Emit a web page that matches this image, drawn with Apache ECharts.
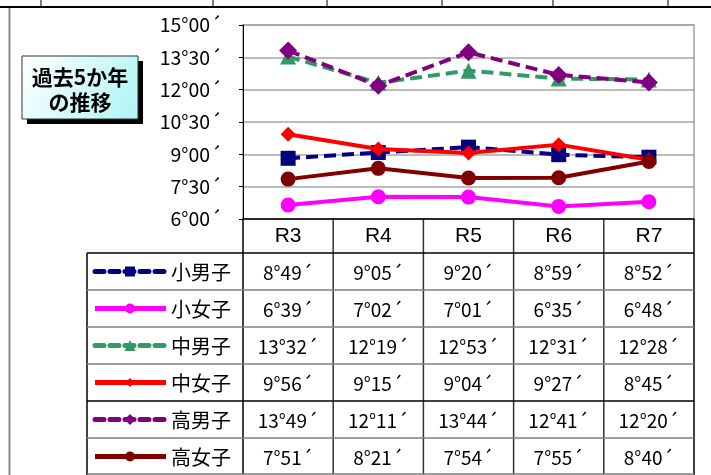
<!DOCTYPE html>
<html><head><meta charset="utf-8">
<script src="https://cdn.jsdelivr.net/npm/echarts@6/dist/echarts.min.js"></script>
<style>html,body{margin:0;padding:0;background:#fff}#c{width:711px;height:475px}</style>
</head><body><div id="c"></div>
<script>
// ---- data (seconds) ----
const categories = ['R3', 'R4', 'R5', 'R6', 'R7'];
const seriesNames = ['小男子', '小女子', '中男子', '中女子', '高男子', '高女子'];
const shoBoys  = [529, 545, 560, 539, 532];   // 8'49 9'05 9'20 8'59 8'52
const shoGirls = [399, 422, 421, 395, 408];   // 6'39 7'02 7'01 6'35 6'48
const chuBoys  = [812, 739, 773, 751, 748];   // 13'32 12'19 12'53 12'31 12'28
const chuGirls = [596, 555, 544, 567, 525];   // 9'56 9'15 9'04 9'27 8'45
const koBoys   = [829, 731, 824, 761, 740];   // 13'49 12'11 13'44 12'41 12'20
const koGirls  = [471, 501, 474, 475, 520];   // 7'51 8'21 7'54 7'55 8'40
const yMin = 360, yMax = 900, yStep = 90;     // 6'00 .. 15'00 every 1'30
const titleLines = ['過去5か年', 'の推移'];

const allData = [shoBoys, shoGirls, chuBoys, chuGirls, koBoys, koGirls];
const styles = [
  {color: '#000080', dashed: true,  symbol: 'rect',     size: 15, lsize: 10},
  {color: '#ff00ff', dashed: false, symbol: 'circle',   size: 15, lsize: 10},
  {color: '#339966', dashed: true,  symbol: 'triangle', size: 16, lsize: 11},
  {color: '#ff0000', dashed: false, symbol: 'diamond',  size: 15, lsize: 9},
  {color: '#800080', dashed: true,  symbol: 'diamond',  size: 18, lsize: 11},
  {color: '#800000', dashed: false, symbol: 'circle',   size: 15, lsize: 10}
];
const FONT = '"Noto Sans CJK JP", sans-serif';
function fmt(s) {
  const m = Math.floor(s / 60), r = s % 60;
  return m + '°' + (r < 10 ? '0' + r : r) + '´';
}

const G = {left: 243, top: 25, width: 451, height: 194};
const chart = echarts.init(document.getElementById('c'), null, {renderer: 'canvas'});
chart.setOption({
  animation: false,
  backgroundColor: '#fff',
  grid: {left: G.left, top: G.top, width: G.width, height: G.height, show: true, borderColor: '#a0a0a0', borderWidth: 1.5, backgroundColor: '#fff'},
  xAxis: {
    type: 'category', data: categories, boundaryGap: true,
    axisLine: {lineStyle: {color: '#000', width: 1.5}},
    axisTick: {show: false},
    axisLabel: {show: false}
  },
  yAxis: {
    type: 'value', min: yMin, max: yMax, interval: yStep,
    axisLine: {show: true, lineStyle: {color: '#000', width: 1}},
    axisTick: {show: true, length: 4, lineStyle: {color: '#000'}},
    splitLine: {lineStyle: {color: '#a6a6a6', width: 1.5}},
    axisLabel: {formatter: fmt, fontSize: 19.5, margin: 21, color: '#000', fontFamily: FONT}
  },
  series: allData.map((d, i) => ({
    name: seriesNames[i], type: 'line', data: d,
    symbol: styles[i].symbol, symbolSize: styles[i].size,
    lineStyle: {color: styles[i].color, width: 4, type: styles[i].dashed ? [12, 6] : 'solid'},
    itemStyle: {color: styles[i].color},
    z: 2 + i
  }))
});

// ---- data table & decorations ----
const gfx = [];
const colX = categories.map((c, i) => chart.convertToPixel({xAxisIndex: 0}, i));
const colW = colX.length > 1 ? colX[1] - colX[0] : G.width;
const tableTop = G.top + G.height;     // header row top
const headerH = 34;
const rowH = 37;
const legendLeft = 87;
const right = G.left + G.width;
const bodyTop = tableTop + headerH;
const bodyBottom = bodyTop + rowH * seriesNames.length;

// outer frame
gfx.push({type: 'line', shape: {x1: 0, y1: 7, x2: 711, y2: 7}, style: {stroke: '#000', lineWidth: 2}});
[41, 213, 327, 442, 553, 668].forEach(x => gfx.push({type: 'line', shape: {x1: x, y1: 0, x2: x, y2: 7}, style: {stroke: '#000', lineWidth: 1}}));
gfx.push({type: 'line', shape: {x1: 9.5, y1: 8, x2: 9.5, y2: 475}, style: {stroke: '#8c8c8c', lineWidth: 2}});

// title box
gfx.push({type: 'rect', shape: {x: 27, y: 61, width: 116, height: 63}, style: {fill: '#000'}});
gfx.push({type: 'rect', shape: {x: 22, y: 56, width: 116, height: 63},
  style: {fill: new echarts.graphic.LinearGradient(0, 0, 1, 1, [{offset: 0, color: '#ffffff'}, {offset: 1, color: '#aef4f4'}]), stroke: '#333', lineWidth: 1}});
titleLines.forEach((t, i) => gfx.push({type: 'text', x: 80, y: 77 + i * 25,
  style: {text: t, fill: '#000', fontSize: 21, fontWeight: 'bold', fontFamily: FONT, align: 'center', verticalAlign: 'middle'}}));

// header labels (category names in the table header row)
categories.forEach((c, i) => gfx.push({type: 'text', x: colX[i], y: tableTop + headerH / 2,
  style: {text: c, fill: '#000', fontSize: 21, fontFamily: '"Liberation Sans", Arial, sans-serif', align: 'center', verticalAlign: 'middle'}}));

// table grid lines
for (let k = 0; k <= categories.length; k++) {
  const x = G.left + colW * k;
  gfx.push({type: 'line', shape: {x1: x, y1: tableTop, x2: x, y2: bodyBottom}, style: {stroke: k === 0 || k === categories.length ? '#000' : '#333', lineWidth: 1.5}});
}
gfx.push({type: 'line', shape: {x1: legendLeft, y1: bodyTop, x2: legendLeft, y2: bodyBottom}, style: {stroke: '#000', lineWidth: 1.5}});
for (let r = 0; r <= seriesNames.length; r++) {
  const y = Math.min(bodyTop + rowH * r, 474);
  gfx.push({type: 'line', shape: {x1: legendLeft, y1: y, x2: right, y2: y}, style: {stroke: (r === 0 || r === 4) ? '#000' : '#7f7f7f', lineWidth: 1.5}});
}

function marker(sym, cx, cy, s, color) {
  const h = s / 2;
  if (sym === 'rect') return {type: 'rect', shape: {x: cx - h, y: cy - h, width: s, height: s}, style: {fill: color}};
  if (sym === 'circle') return {type: 'circle', shape: {cx: cx, cy: cy, r: h}, style: {fill: color}};
  if (sym === 'triangle') return {type: 'polygon', shape: {points: [[cx, cy - h], [cx + h, cy + h], [cx - h, cy + h]]}, style: {fill: color}};
  return {type: 'polygon', shape: {points: [[cx, cy - h], [cx + h, cy], [cx, cy + h], [cx - h, cy]]}, style: {fill: color}};
}

seriesNames.forEach((name, r) => {
  const cy = bodyTop + rowH * r + rowH / 2;
  const st = styles[r];
  gfx.push({type: 'line', shape: {x1: 95, y1: cy, x2: 166, y2: cy},
    style: {stroke: st.color, lineWidth: 5, lineDash: st.dashed ? [9, 6] : null, lineCap: st.dashed ? 'round' : 'butt'}});
  gfx.push(marker(st.symbol, 130, cy, st.lsize, st.color));
  gfx.push({type: 'text', x: 171, y: cy + 1, style: {text: name, fill: '#000', fontSize: 20, fontFamily: FONT, align: 'left', verticalAlign: 'middle'}});
  allData[r].forEach((v, c) => {
    gfx.push({type: 'text', x: colX[c], y: cy + 1, style: {text: fmt(v), fill: '#000', fontSize: 19, fontFamily: FONT, align: 'center', verticalAlign: 'middle'}});
  });
});

chart.setOption({graphic: {elements: gfx}});
</script>
</body></html>
